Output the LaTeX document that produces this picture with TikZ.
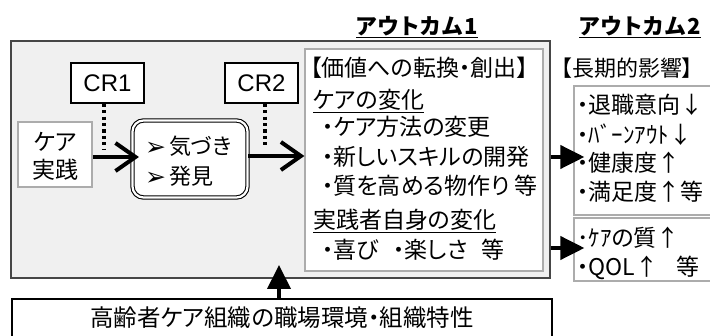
\documentclass[tikz,border=0pt]{standalone}
\usepackage{fontspec}
\setmainfont{Noto Sans CJK JP}[RawFeature=+palt]
\newfontfamily\headfont{Noto Sans CJK JP}[RawFeature=+palt,LetterSpace=7]
\newfontfamily\symfont{DejaVu Sans}
\newfontfamily\latinfont{Liberation Sans}
\usetikzlibrary{arrows.meta}
\begin{document}
\begin{tikzpicture}[x=1pt,y=-1pt,
  graybox/.style={draw=gray!55!black,fill=gray!12,line width=1.2pt,inner sep=0pt},
  wbox/.style={draw=gray!65,fill=white,line width=1.2pt,inner sep=0pt},
  crbox/.style={draw=black,fill=white,line width=1.8pt,inner sep=0pt,minimum width=73pt,minimum height=40pt,font=\latinfont\fontsize{24}{28}\selectfont},
  dblbox/.style={draw=black,double=white,double distance=2.2pt,line width=1.1pt,rounded corners=11pt,fill=white,inner sep=0pt},
  orgbox/.style={draw=black,fill=white,line width=2.6pt,inner sep=0pt},
  txt/.style={inner sep=0pt,anchor=west,font=\fontsize{23}{27}\selectfont},
  head/.style={inner sep=0pt,anchor=center,font=\headfont\bfseries\fontsize{22}{26}\selectfont},
  dotline/.style={line width=3.2pt,dash pattern=on 3.2pt off 3.2pt},
  barb/.style={line width=4pt,-{Straight Barb[length=20pt,width=28pt,line width=4pt]}},
  fillarrow/.style={line width=4pt,-{Triangle[length=24pt,width=23pt]}}
]
\useasboundingbox (0,0) rectangle (710,336);

% headings
\node[head] (h1) at (417,27) {\underline{アウトカム1}};
\node[head] (h2) at (640,27) {\underline{アウトカム2}};

% gray environment box
\node[graybox,minimum width=539pt,minimum height=237pt] (gray) at (280.5,159.5) {};

% CR boxes
\node[crbox] (cr1) at (107.5,83) {CR1};
\node[crbox] (cr2) at (261.5,83) {CR2};

% care practice
\node[wbox,minimum width=74pt,minimum height=65pt] (care) at (55,154.5) {};
\node[txt,anchor=center] (care1) at (55,142) {ケア};
\node[txt,anchor=center] (care2) at (55,170) {実践};

% kizuki box
\node[dblbox,minimum width=115pt,minimum height=77pt] (kiz) at (190,159) {};
\node[txt,font=\fontsize{22}{26}\selectfont] (k1) at (145,146) {\smash{\symfont\fontsize{25}{25}\selectfont\raisebox{-1pt}{➢}}\kern3pt 気づき};
\node[txt,font=\fontsize{22}{26}\selectfont] (k2) at (145,176) {\smash{\symfont\fontsize{25}{25}\selectfont\raisebox{-1pt}{➢}}\kern3pt 発見};

% dotted lines
\coordinate (d1) at (104,150);
\coordinate (d2) at (265,148);
\draw[dotline] (d1 |- cr1.south) -- (d1);
\draw[dotline] (d2 |- cr2.south) -- (d2);

% outcome 1
\node[wbox,minimum width=238pt,minimum height=222pt] (out1) at (424,160) {};
\node[txt] (o1a) at (310,68) {【価値への転換・創出】};
\node[txt] (o1b) at (313,101) {\underline{ケアの変化}};
\node[txt] (o1c) at (322,127) {・ケア方法の変更};
\node[txt] (o1d) at (322,157) {・新しいスキルの開発};
\node[txt] (o1e) at (322,186) {・質を高める物作り 等};
\node[txt] (o1f) at (313,221) {\underline{実践者自身の変化}};
\node[txt] (o1g) at (322,250) {・喜び\hspace{14pt}・楽しさ\hspace{14pt}等};

% outcome 2
\node[txt,font=\fontsize{22}{26}\selectfont] (o2h) at (561,68) {【長期的影響】};
\node[wbox,minimum width=156pt,minimum height=129pt] (o2a) at (652,150.5) {};
\node[txt] (o2a1) at (577,105) {・退職意向↓};
\node[txt] (o2a2) at (577,135) {・ﾊﾞｰﾝｱｳﾄ↓};
\node[txt] (o2a3) at (577,163) {・健康度↑};
\node[txt] (o2a4) at (577,192) {・満足度↑等};
\node[wbox,minimum width=156pt,minimum height=63pt] (o2b) at (652,249.5) {};
\node[txt] (o2b1) at (577,238) {･ｹｱの質↑};
\node[txt] (o2b2) at (577,268) {・QOL↑\hspace{18pt}等};

% organisation box
\node[orgbox,minimum width=540pt,minimum height=60pt] (org) at (282,329) {};
\node[txt,anchor=center,font=\fontsize{23.5}{27}\selectfont] (orgt) at (282,318) {高齢者ケア組織の職場環境・組織特性};

% arrows
\draw[barb] ([yshift=-2.5pt]care.east) -- ([yshift=2pt,xshift=7pt]kiz.west);
\draw[barb] ([yshift=3pt]kiz.east) -- ([yshift=4pt]out1.west);
\draw[fillarrow] ([yshift=2.5pt]gray.east) -- ([yshift=-6.5pt,xshift=11pt]o2a.west);
\draw[fillarrow] ([yshift=1.5pt]o2b.west -| gray.east) -- ([yshift=1.5pt,xshift=11pt]o2b.west);
\coordinate (uptip) at (279,265);
\draw[fillarrow] (uptip |- org.north) -- (uptip);
\end{tikzpicture}
\end{document}
